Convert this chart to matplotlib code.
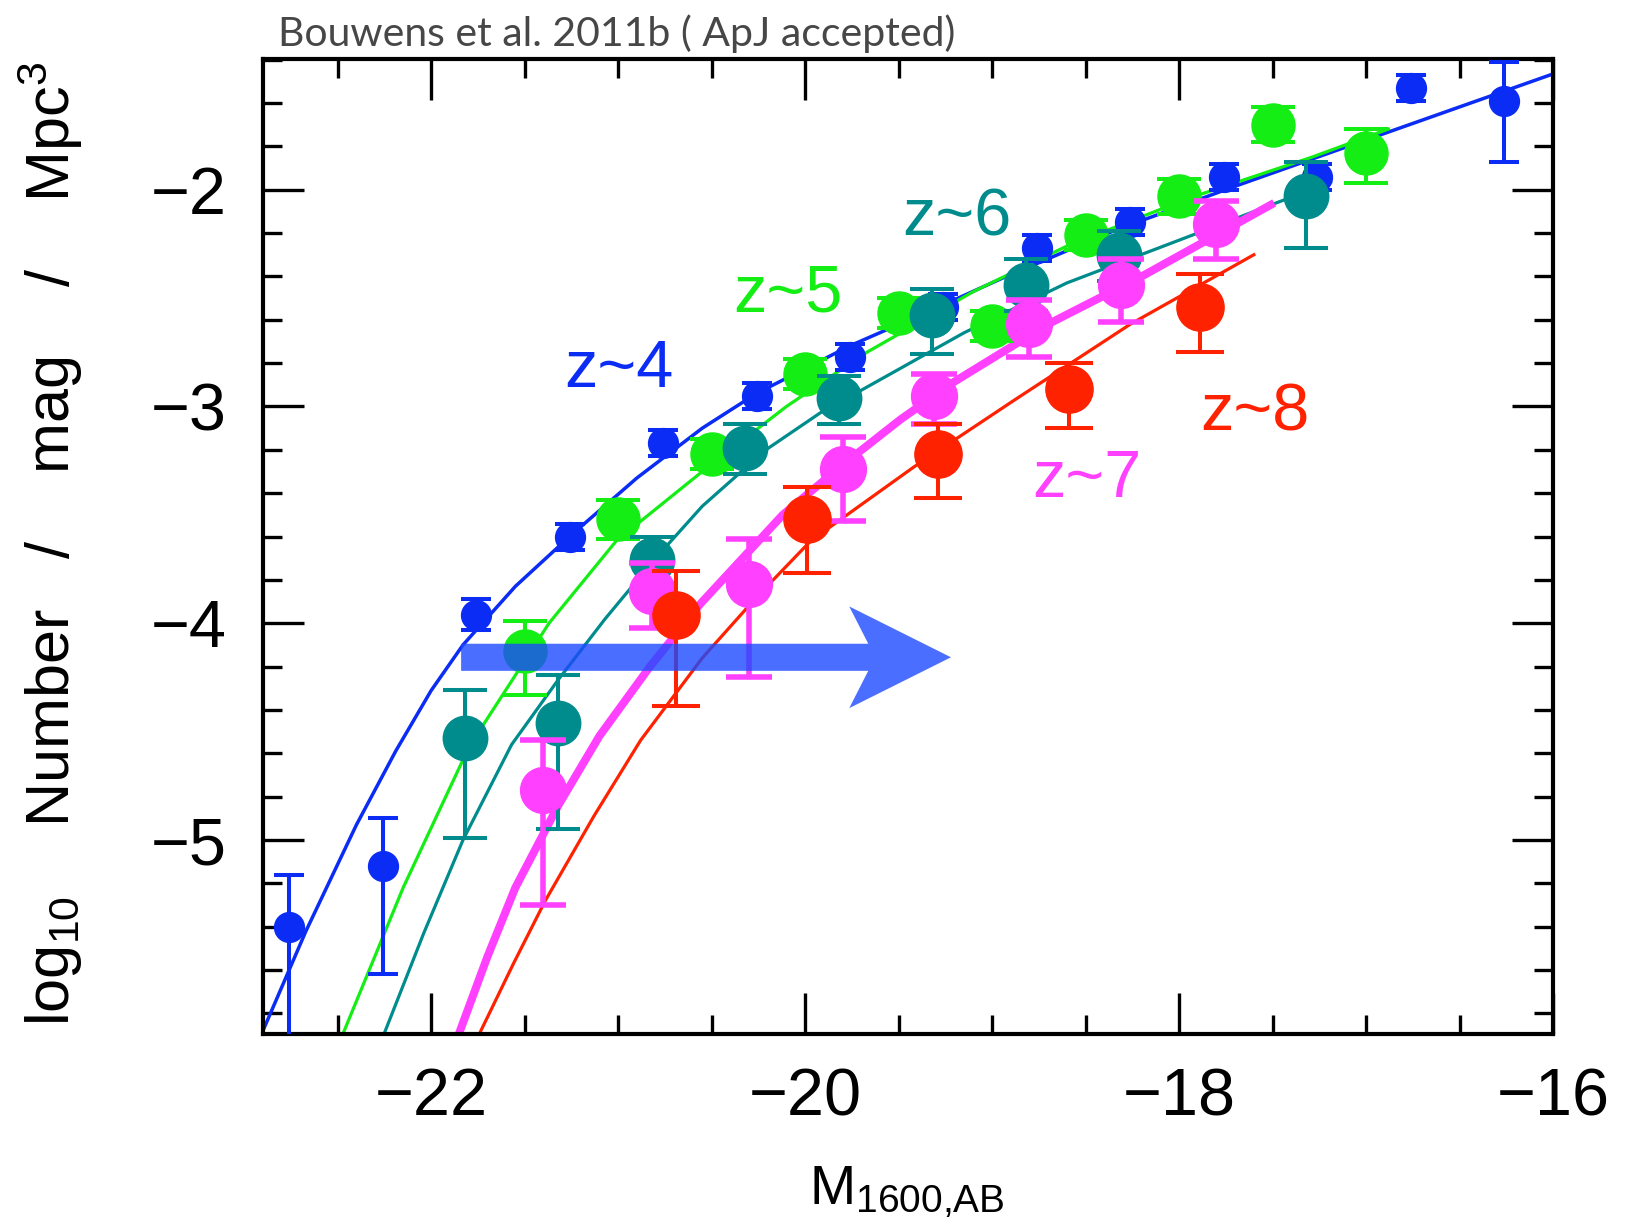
"""UV luminosity functions at z~4-8 (after Bouwens et al. 2011b)."""

import numpy as np
import matplotlib
matplotlib.use("Agg")
import matplotlib.pyplot as plt
from matplotlib.patches import FancyArrow
from matplotlib.ticker import MultipleLocator

# --------------------------------------------------------------------------------------
# Data: binned LF points (M_1600, log10 phi, +err, -err) and fit curves
# --------------------------------------------------------------------------------------
z4_M = [-22.76, -22.26, -21.76, -21.26, -20.76, -20.26, -19.76, -19.26, -18.76, -18.26,
        -17.76, -17.26, -16.76, -16.26]
z4_phi = [-5.40, -5.12, -3.96, -3.60, -3.17, -2.95, -2.77, -2.54, -2.27, -2.15,
          -1.94, -1.94, -1.53, -1.59]
z4_up = [0.24, 0.22, 0.07, 0.06, 0.06, 0.06, 0.06, 0.06, 0.06, 0.06, 0.06, 0.06, 0.06, 0.18]
z4_dn = [1.00, 0.50, 0.07, 0.06, 0.06, 0.06, 0.06, 0.06, 0.06, 0.06, 0.06, 0.06, 0.06, 0.28]
z4_fit_M = [-22.90, -22.67, -22.40, -22.19, -22.00, -21.83, -21.55, -21.26, -20.90, -20.55,
            -20.26, -19.76, -19.31, -18.95, -18.35, -17.72, -16.90, -16.00]
z4_fit_phi = [-5.88, -5.42, -4.93, -4.59, -4.31, -4.10, -3.83, -3.60, -3.33, -3.10,
              -2.94, -2.72, -2.55, -2.41, -2.19, -1.99, -1.74, -1.466]

z5_M = [-21.50, -21.00, -20.50, -20.00, -19.50, -19.00, -18.50, -18.00, -17.50, -17.00]
z5_phi = [-4.13, -3.52, -3.22, -2.85, -2.57, -2.63, -2.21, -2.03, -1.70, -1.83]
z5_up = [0.14, 0.09, 0.07, 0.07, 0.07, 0.07, 0.07, 0.08, 0.08, 0.11]
z5_dn = [0.20, 0.09, 0.07, 0.07, 0.07, 0.07, 0.07, 0.08, 0.08, 0.14]
z5_fit_M = [-22.47, -22.15, -21.83, -21.73, -21.37, -21.01, -20.55, -20.10, -19.67, -19.10,
            -18.60, -17.95, -17.29, -16.88]
z5_fit_phi = [-5.89, -5.22, -4.63, -4.48, -4.00, -3.62, -3.30, -3.00, -2.75, -2.47,
              -2.26, -2.04, -1.85, -1.72]

z6_M = [-21.82, -21.32, -20.82, -20.32, -19.82, -19.32, -18.82, -18.32, -17.32]
z6_phi = [-4.53, -4.46, -3.71, -3.19, -2.96, -2.58, -2.44, -2.30, -2.03]
z6_up = [0.22, 0.22, 0.11, 0.11, 0.10, 0.12, 0.12, 0.11, 0.16]
z6_dn = [0.46, 0.49, 0.17, 0.12, 0.12, 0.18, 0.12, 0.12, 0.24]
z6_fit_M = [-22.25, -22.04, -21.83, -21.57, -21.32, -21.07, -20.81, -20.55, -20.21, -19.92,
            -19.71, -19.15, -18.60, -17.90, -17.19]
z6_fit_phi = [-5.89, -5.43, -5.00, -4.56, -4.26, -3.98, -3.71, -3.46, -3.20, -3.03,
              -2.93, -2.66, -2.43, -2.20, -1.965]

z7_M = [-21.40, -20.82, -20.30, -19.80, -19.31, -18.80, -18.31, -17.80]
z7_phi = [-4.77, -3.85, -3.82, -3.29, -2.95, -2.62, -2.44, -2.16]
z7_up = [0.23, 0.13, 0.21, 0.15, 0.10, 0.11, 0.12, 0.11]
z7_dn = [0.53, 0.17, 0.43, 0.24, 0.13, 0.15, 0.17, 0.16]
z7_fit_M = [-21.85, -21.70, -21.55, -21.32, -21.10, -20.83, -20.56, -20.12, -19.80, -19.49,
            -19.21, -18.70, -18.20, -17.51]
z7_fit_phi = [-5.89, -5.54, -5.22, -4.84, -4.52, -4.20, -3.91, -3.50, -3.27, -3.06,
              -2.89, -2.62, -2.40, -2.07]

z8_M = [-20.69, -19.99, -19.29, -18.59, -17.89]
z8_phi = [-3.96, -3.52, -3.22, -2.92, -2.54]
z8_up = [0.20, 0.15, 0.14, 0.12, 0.15]
z8_dn = [0.42, 0.25, 0.20, 0.18, 0.21]
z8_fit_M = [-21.74, -21.56, -21.39, -21.13, -20.88, -20.55, -20.26, -19.97, -19.42, -18.88,
            -18.26, -17.60]
z8_fit_phi = [-5.89, -5.57, -5.28, -4.89, -4.54, -4.16, -3.88, -3.62, -3.28, -2.97,
              -2.62, -2.30]

labels = ["z~4", "z~5", "z~6", "z~7", "z~8"]

# --------------------------------------------------------------------------------------
# Style
# --------------------------------------------------------------------------------------
plt.rcParams["font.family"] = ["Liberation Sans", "DejaVu Sans"]
plt.rcParams["mathtext.fontset"] = "custom"
plt.rcParams["mathtext.rm"] = "Liberation Sans"
plt.rcParams["mathtext.it"] = "Liberation Sans:italic"
plt.rcParams["mathtext.bf"] = "Liberation Sans:bold"

series = [
    # points, fit, colour, marker size, cap size, error width, fit width, label position
    dict(M=z4_M, phi=z4_phi, up=z4_up, dn=z4_dn, fM=z4_fit_M, fphi=z4_fit_phi,
         color="#0a2cf5", ms=21.5, cs=11, ew=2.9, lw=2.5, lab=(-20.997, -2.910)),
    dict(M=z5_M, phi=z5_phi, up=z5_up, dn=z5_dn, fM=z5_fit_M, fphi=z5_fit_phi,
         color="#14ee14", ms=31, cs=16, ew=2.9, lw=2.3, lab=(-20.091, -2.564)),
    dict(M=z6_M, phi=z6_phi, up=z6_up, dn=z6_dn, fM=z6_fit_M, fphi=z6_fit_phi,
         color="#008c8c", ms=32, cs=16, ew=2.9, lw=2.3, lab=(-19.190, -2.213)),
    dict(M=z7_M, phi=z7_phi, up=z7_up, dn=z7_dn, fM=z7_fit_M, fphi=z7_fit_phi,
         color="#ff40ff", ms=33, cs=16.5, ew=4.0, lw=5.8, lab=(-18.493, -3.418)),
    dict(M=z8_M, phi=z8_phi, up=z8_up, dn=z8_dn, fM=z8_fit_M, fphi=z8_fit_phi,
         color="#ff2200", ms=34, cs=17, ew=2.9, lw=2.3, lab=(-17.592, -3.113)),
]

fig = plt.figure(figsize=(16.26, 12.24), dpi=100)
ax = fig.add_axes([0.1617, 0.1552, 0.7934, 0.7966])

for s in series:
    ax.plot(s["fM"], s["fphi"], "-", color=s["color"], lw=s["lw"], zorder=2,
            solid_joinstyle="round")

for k, (s, text) in enumerate(zip(series, labels)):
    ax.errorbar(s["M"], s["phi"], yerr=[s["dn"], s["up"]], fmt="o", ms=s["ms"],
                color=s["color"], mec=s["color"], ecolor=s["color"],
                elinewidth=s["ew"], capsize=s["cs"], capthick=s["ew"], zorder=3 + k)
    ax.text(s["lab"][0], s["lab"][1], text, color=s["color"], fontsize=48,
            ha="center", va="baseline", zorder=9)

# the "shift to fainter magnitudes" arrow
ax.add_patch(FancyArrow(-21.84, -4.157, 2.62, 0.0, width=0.125, head_width=0.469,
                        head_length=0.544, overhang=0.187, length_includes_head=True,
                        color="#1d4aff", alpha=0.8, lw=0, zorder=12))

ax.set_xlim(-22.9, -16.0)
ax.set_ylim(-5.895, -1.397)
ax.xaxis.set_major_locator(MultipleLocator(2))
ax.xaxis.set_minor_locator(MultipleLocator(0.5))
ax.yaxis.set_major_locator(MultipleLocator(1))
ax.yaxis.set_minor_locator(MultipleLocator(0.2))
ax.tick_params(which="both", direction="in", top=True, right=True, width=2.4,
               colors="black", labelsize=48)
ax.tick_params(which="major", length=29.5)
ax.tick_params(which="minor", length=13.7)
ax.tick_params(axis="x", pad=24)
ax.tick_params(axis="y", pad=26)
for sp in ax.spines.values():
    sp.set_linewidth(3.0)

fig.text(0.031, 0.556,
         r"log$_{\mathregular{10}}$    Number   /    mag    /    Mpc$^{\mathregular{3}}$",
         rotation=90, ha="center", va="center", fontsize=44)
fig.text(0.558, 0.003, r"M$_{\mathregular{1600{,}AB}}$", ha="center", va="bottom",
         fontsize=40)
fig.text(278 / 1626, 1 - 46 / 1224, "Bouwens et al. 2011b ( ApJ accepted)",
         family=["Lato", "DejaVu Sans"], fontsize=29.5, color="#474747", va="baseline")

fig.savefig("out.png", dpi=100)
